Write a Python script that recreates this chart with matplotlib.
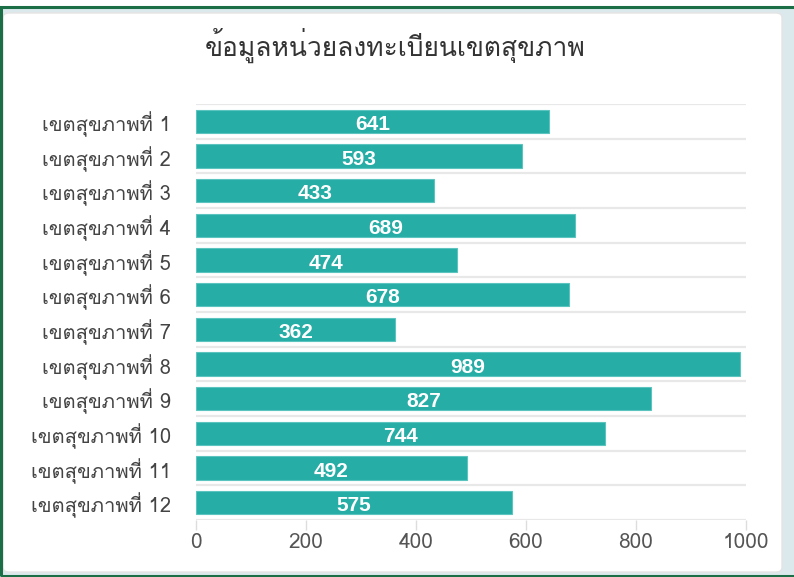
import matplotlib
matplotlib.use("Agg")
import matplotlib.pyplot as plt
from matplotlib import font_manager
from matplotlib.ft2font import FT2Font
from matplotlib.patches import FancyBboxPatch, Rectangle

title = "ข้อมูลหน่วยลงทะเบียนเขตสุขภาพ"
regions = [
    "เขตสุขภาพที่ 1", "เขตสุขภาพที่ 2", "เขตสุขภาพที่ 3", "เขตสุขภาพที่ 4",
    "เขตสุขภาพที่ 5", "เขตสุขภาพที่ 6", "เขตสุขภาพที่ 7", "เขตสุขภาพที่ 8",
    "เขตสุขภาพที่ 9", "เขตสุขภาพที่ 10", "เขตสุขภาพที่ 11", "เขตสุขภาพที่ 12",
]
values = [641, 593, 433, 689, 474, 678, 362, 989, 827, 744, 492, 575]
xticks = [0, 200, 400, 600, 800, 1000]


# find an installed font that has Thai glyphs
def thai_fonts():
    found = []
    for f in font_manager.fontManager.ttflist:
        try:
            cmap = FT2Font(f.fname).get_charmap()
        except Exception:
            continue
        if 0x0E02 in cmap and f.name not in found:
            found.append(f.name)
    return found


thai = thai_fonts()
plt.rcParams['font.family'] = thai[:1] + ['DejaVu Sans']

W, H = 794, 577
fig = plt.figure(figsize=(W / 100, H / 100), dpi=100)

# outer frame: shadow band, white card, green border
fig.patches.append(Rectangle((0, 0), 1, 1 - 6 / H, transform=fig.transFigure,
                             facecolor='#dce9ec', edgecolor='none', zorder=-3))
fig.patches.append(FancyBboxPatch((3 / W, 5 / H), 779 / W, (H - 18) / H,
                                  boxstyle='round,pad=0,rounding_size=0.008',
                                  transform=fig.transFigure, facecolor='white',
                                  edgecolor='#e4e4e4', lw=1, zorder=-2))
fig.patches.append(Rectangle((0.5 / W, 1.5 / H), 1.2, (H - 8) / H,
                             transform=fig.transFigure, facecolor='none',
                             edgecolor='#1b6e45', lw=2.2, zorder=5))

ax = fig.add_axes([196 / W, 1 - 520 / H, 550 / W, 416 / H])
ax.set_facecolor('none')
y = list(range(len(regions)))
ax.barh(y, values, height=0.68, color='#26ada6', edgecolor='#5cc4bf',
        linewidth=0.8, zorder=3)
for yi, v in zip(y, values):
    ax.text(v / 2, yi + 0.09, str(v), ha='center', va='center', color='white',
            fontsize=15, fontweight='bold', family='Liberation Sans', zorder=4)

ax.set_xlim(0, 1000)
ax.set_ylim(len(regions) - 0.5, -0.5)
ax.set_xticks(xticks)
ax.set_yticks(y)
ax.set_yticklabels(regions)
ax.set_yticks([i - 0.5 for i in range(len(regions) + 1)], minor=True)
ax.grid(True, axis='y', which='minor', color='#e8e8e8', lw=1.6, zorder=1)
ax.grid(False, axis='x')
ax.grid(False, axis='y', which='major')
for s in ax.spines.values():
    s.set_visible(False)
ax.tick_params(axis='y', which='both', length=0, pad=18, labelsize=14.5,
               labelcolor='#444444')
ax.tick_params(axis='x', length=7, width=1, color='#dddddd', pad=2,
               labelsize=15, labelcolor='#555555')

fig.text(395 / W, 1 - 45 / H, title, ha='center', va='center',
         fontsize=19, color='#333333')

fig.savefig('out.png', dpi=100)
